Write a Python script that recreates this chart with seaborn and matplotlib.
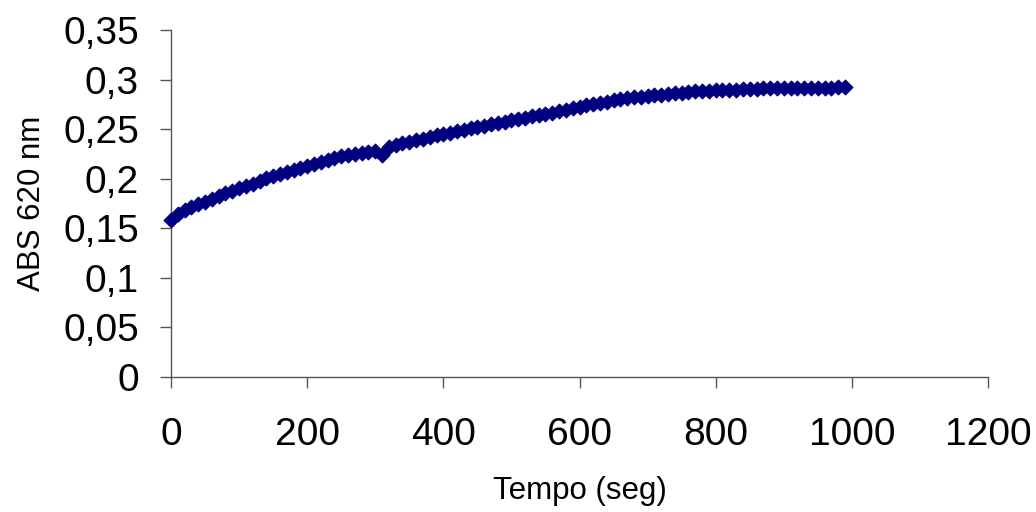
import numpy as np
import pandas as pd
import matplotlib
matplotlib.use("Agg")
import matplotlib.pyplot as plt
from matplotlib.ticker import FuncFormatter
import seaborn as sns

# Absorbance readings at 620 nm, one every 10 s
tempo = list(range(0, 1000, 10))
abs620 = [
    0.158, 0.164, 0.168, 0.171, 0.174, 0.177, 0.180, 0.183, 0.186, 0.188,
    0.191, 0.193, 0.195, 0.198, 0.201, 0.203, 0.205, 0.207, 0.209, 0.211,
    0.213, 0.215, 0.217, 0.219, 0.221, 0.223, 0.224, 0.225, 0.226, 0.227,
    0.228, 0.224, 0.232, 0.234, 0.236, 0.237, 0.239, 0.240, 0.242, 0.244,
    0.245, 0.246, 0.248, 0.249, 0.251, 0.252, 0.253, 0.255, 0.256, 0.257,
    0.259, 0.260, 0.261, 0.263, 0.264, 0.265, 0.266, 0.268, 0.269, 0.271,
    0.272, 0.274, 0.275, 0.276, 0.277, 0.279, 0.280, 0.281, 0.282, 0.282,
    0.283, 0.284, 0.284, 0.285, 0.286, 0.286, 0.287, 0.288, 0.288, 0.288,
    0.289, 0.289, 0.289, 0.289, 0.290, 0.290, 0.290, 0.291, 0.291, 0.291,
    0.291, 0.291, 0.292, 0.292, 0.292, 0.292, 0.292, 0.292, 0.293, 0.293,
]

x_ticks = [0, 200, 400, 600, 800, 1000, 1200]
y_ticks = [0, 0.05, 0.10, 0.15, 0.20, 0.25, 0.30, 0.35]

df = pd.DataFrame({"tempo": tempo, "abs": abs620})

sns.set_theme(style="white")
plt.rcParams["font.family"] = ["Liberation Sans", "DejaVu Sans"]

fig = plt.figure(figsize=(10.36, 5.12), dpi=100)
ax = fig.add_axes([171 / 1036, 1 - 377 / 512, 817 / 1036, 347 / 512])

navy = "#000080"
sns.scatterplot(data=df, x="tempo", y="abs", marker="D", s=56,
                color=navy, edgecolor=navy, linewidth=0.9, ax=ax, zorder=3,
                clip_on=False)

ax.set_xlim(0, 1200)
ax.set_ylim(0, 0.35)
ax.set_xticks(x_ticks)
ax.set_yticks(y_ticks)
ax.yaxis.set_major_formatter(FuncFormatter(lambda v, p: f"{v:g}".replace(".", ",")))
ax.xaxis.set_major_formatter(FuncFormatter(lambda v, p: f"{v:g}"))

for side in ("top", "right"):
    ax.spines[side].set_visible(False)
for side in ("left", "bottom"):
    ax.spines[side].set_color("#555555")
    ax.spines[side].set_linewidth(1.0)

ax.tick_params(axis="both", which="major", direction="out", length=8,
               width=1.0, color="#555555", labelsize=28, labelcolor="black",
               bottom=True, left=True, top=False, right=False)
ax.tick_params(axis="y", pad=15)
ax.tick_params(axis="x", pad=21)
ax.grid(False)

ax.set_xlabel("Tempo (seg)", fontsize=22.5, color="black")
ax.set_ylabel("ABS 620 nm", fontsize=22.5, color="black")
ax.xaxis.set_label_coords(0.5, -0.285)
ax.yaxis.set_label_coords(-0.152, 0.5)

fig.savefig("out.png", dpi=100, facecolor="white")
